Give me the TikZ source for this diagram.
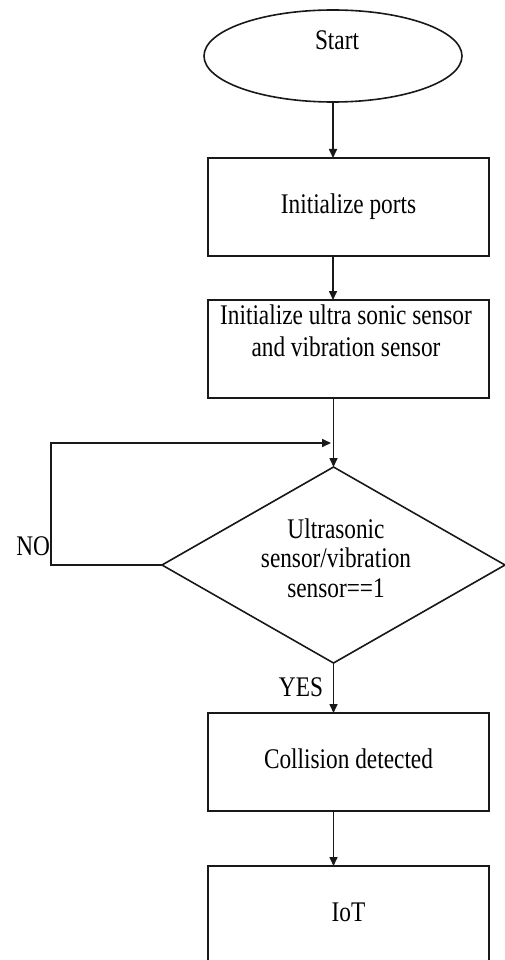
\documentclass[tikz,border=0pt]{standalone}
\usepackage{fontspec}
\usepackage{graphicx}
\setmainfont{Liberation Serif}
\usetikzlibrary{shapes.geometric,arrows.meta}
\newcommand\txa[1]{\scalebox{1}[1.22]{\begin{tabular}{@{}c@{}}#1\end{tabular}}}
\begin{document}
\begin{tikzpicture}[x=1pt,y=1pt,
  every node/.style={inner sep=0pt, outer sep=0pt},
  ln/.style={line width=1.6pt, draw=black!90},
  arr/.style={ln, -{Triangle[length=9pt,width=8pt]}},
  boxshape/.style={ln, rectangle, minimum width=281pt, minimum height=98pt},
  ovalshape/.style={ln, ellipse, minimum width=258pt, minimum height=92pt},
  decshape/.style={ln, diamond, minimum width=343pt, minimum height=196pt},
  lbl/.style={font=\fontsize{23.3}{26}\selectfont, text=black},
  dlbl/.style={font=\fontsize{23.3}{24.5}\selectfont, text=black}
]
\useasboundingbox (0,0) rectangle (505,-960);
\fill[white] (0,0) rectangle (505,-960);

\node[ovalshape] (start) at (333,-56) {};
\node[lbl] (starttxt) at (337,-43) {\txa{Start}};

\node[boxshape, lbl] (b1) at (348.5,-207) {\txa{Initialize ports}};

\node[boxshape] (b2) at (348.5,-349) {};
\node[lbl] (b2txt) at (346,-334) {\txa{Initialize ultra sonic sensor\\and vibration sensor}};

\node[decshape] (dec) at (333.5,-565) {};
\node[dlbl] (dectxt) at (336,-562) {\txa{Ultrasonic\\sensor/vibration\\sensor==1}};

\node[boxshape, lbl] (b3) at (348.5,-762) {\txa{Collision detected}};
\node[boxshape, lbl] (b4) at (348.5,-915) {\txa{IoT}};

\coordinate (la) at (51,-565);
\coordinate (lb) at (51,-443);
\coordinate (lc) at (333,-443);

\draw[arr] (start.south) -- (start.south |- b1.north);
\draw[arr] (b1.south -| start.south) -- (start.south |- b2.north);
\draw[arr] (b2.south -| dec.north) -- (dec.north);
\draw[arr] (dec.west) -- (la) -- (lb) -- ([xshift=-2pt]lc);
\draw[arr] (dec.south) -- (dec.south |- b3.north);
\draw[arr] (b3.south -| dec.south) -- (dec.south |- b4.north);

\node[lbl, anchor=east] (no) at (50,-549) {\txa{NO}};
\node[lbl, anchor=east] (yes) at (323,-690) {\txa{YES}};
\end{tikzpicture}
\end{document}
